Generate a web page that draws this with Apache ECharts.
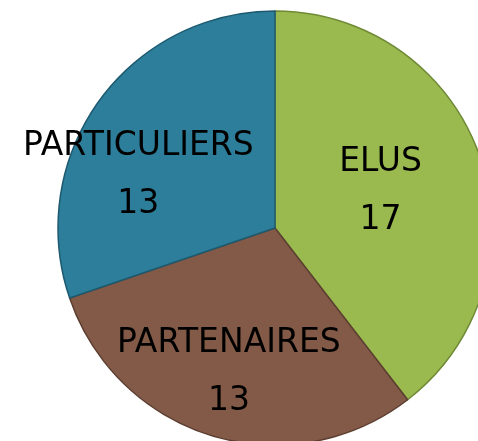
<!DOCTYPE html>
<html>
<head>
<meta charset="utf-8">
<script src="https://cdn.jsdelivr.net/npm/echarts@6/dist/echarts.min.js"></script>
<style>
  html, body { margin: 0; padding: 0; background: #fff; }
  #chart { width: 478px; height: 441px; }
</style>
</head>
<body>
<div id="chart"></div>
<script>
// slice data, clockwise from 12 o'clock
var names = ['ELUS', 'PARTENAIRES', 'PARTICULIERS'];
var values = [17, 13, 13];

var colors = ['#9aba4f', '#835a47', '#2c7e9a'];
var borders = ['#6f8a35', '#5c3e31', '#1d5a70'];
var offsets = [[0, -1], [-14, 38], [-46, 12]];

var chart = echarts.init(document.getElementById('chart'));
chart.setOption({
  animation: false,
  series: [
    {
      type: 'pie',
      center: [275, 228],
      radius: [0, 217],
      startAngle: 90,
      clockwise: true,
      silent: true,
      label: {
        show: true,
        position: 'inside',
        formatter: '{b}\n{c}',
        color: '#000',
        fontFamily: 'DejaVu Sans',
        fontSize: 33,
        lineHeight: 58
      },
      labelLine: { show: false },
      data: names.map(function (n, i) {
        return {
          name: n,
          value: values[i],
          itemStyle: { color: colors[i], borderColor: borders[i], borderWidth: 1.5 },
          label: { offset: offsets[i] }
        };
      })
    }
  ]
});
</script>
</body>
</html>
